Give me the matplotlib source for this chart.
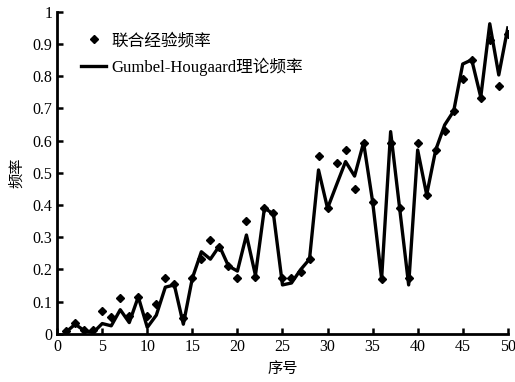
import matplotlib.pyplot as plt
import numpy as np

plt.rcParams['font.family'] = ['Liberation Serif', 'Noto Sans CJK SC']

idx = np.arange(1, 51)
# joint empirical frequency (diamonds)
emp = [0.010, 0.033, 0.012, 0.012, 0.072, 0.052, 0.112, 0.054, 0.115, 0.055,
       0.093, 0.173, 0.155, 0.050, 0.173, 0.232, 0.292, 0.271, 0.211, 0.173,
       0.351, 0.178, 0.391, 0.375, 0.173, 0.173, 0.193, 0.232, 0.551, 0.390,
       0.532, 0.571, 0.449, 0.594, 0.411, 0.171, 0.592, 0.390, 0.173, 0.592,
       0.432, 0.571, 0.631, 0.692, 0.793, 0.851, 0.731, 0.913, 0.770, 0.932]
# Gumbel-Hougaard theoretical frequency (line)
theo = [0.006, 0.030, 0.010, 0.004, 0.032, 0.025, 0.075, 0.035, 0.115, 0.020,
        0.058, 0.145, 0.152, 0.030, 0.173, 0.255, 0.232, 0.273, 0.211, 0.195,
        0.307, 0.182, 0.391, 0.372, 0.152, 0.158, 0.199, 0.232, 0.509, 0.390,
        0.463, 0.535, 0.490, 0.594, 0.411, 0.171, 0.628, 0.390, 0.152, 0.571,
        0.432, 0.571, 0.649, 0.692, 0.838, 0.851, 0.735, 0.963, 0.804, 0.950]

fig = plt.figure(figsize=(5.15, 3.82), dpi=100)
ax = fig.add_axes([0.111, 0.126, 0.875, 0.843])

ax.plot(idx, emp, 'D', color='black', markersize=4, label='联合经验频率')
ax.plot(idx, theo, '-', color='black', linewidth=2.4, label='Gumbel-Hougaard理论频率')

ax.set_xlim(0, 50)
ax.set_ylim(0, 1)
ax.set_xticks(np.arange(0, 51, 5))
ax.set_yticks(np.arange(0, 1.01, 0.1))
ax.set_yticklabels(['0', '0.1', '0.2', '0.3', '0.4', '0.5', '0.6', '0.7', '0.8', '0.9', '1'])

for s in ['top', 'right']:
    ax.spines[s].set_visible(False)
for s in ['left', 'bottom']:
    ax.spines[s].set_linewidth(2.0)
ax.tick_params(direction='in', length=4, width=1.8, labelsize=11.5)

ax.set_xlabel('序号', fontsize=11, labelpad=5)
ax.set_ylabel('频率', fontsize=11, labelpad=6)

ax.legend(loc='upper left', bbox_to_anchor=(0.02, 0.98), frameon=False,
          fontsize=12, handlelength=1.5, handletextpad=0.3, labelspacing=0.5)

plt.savefig('out.png', dpi=100)
